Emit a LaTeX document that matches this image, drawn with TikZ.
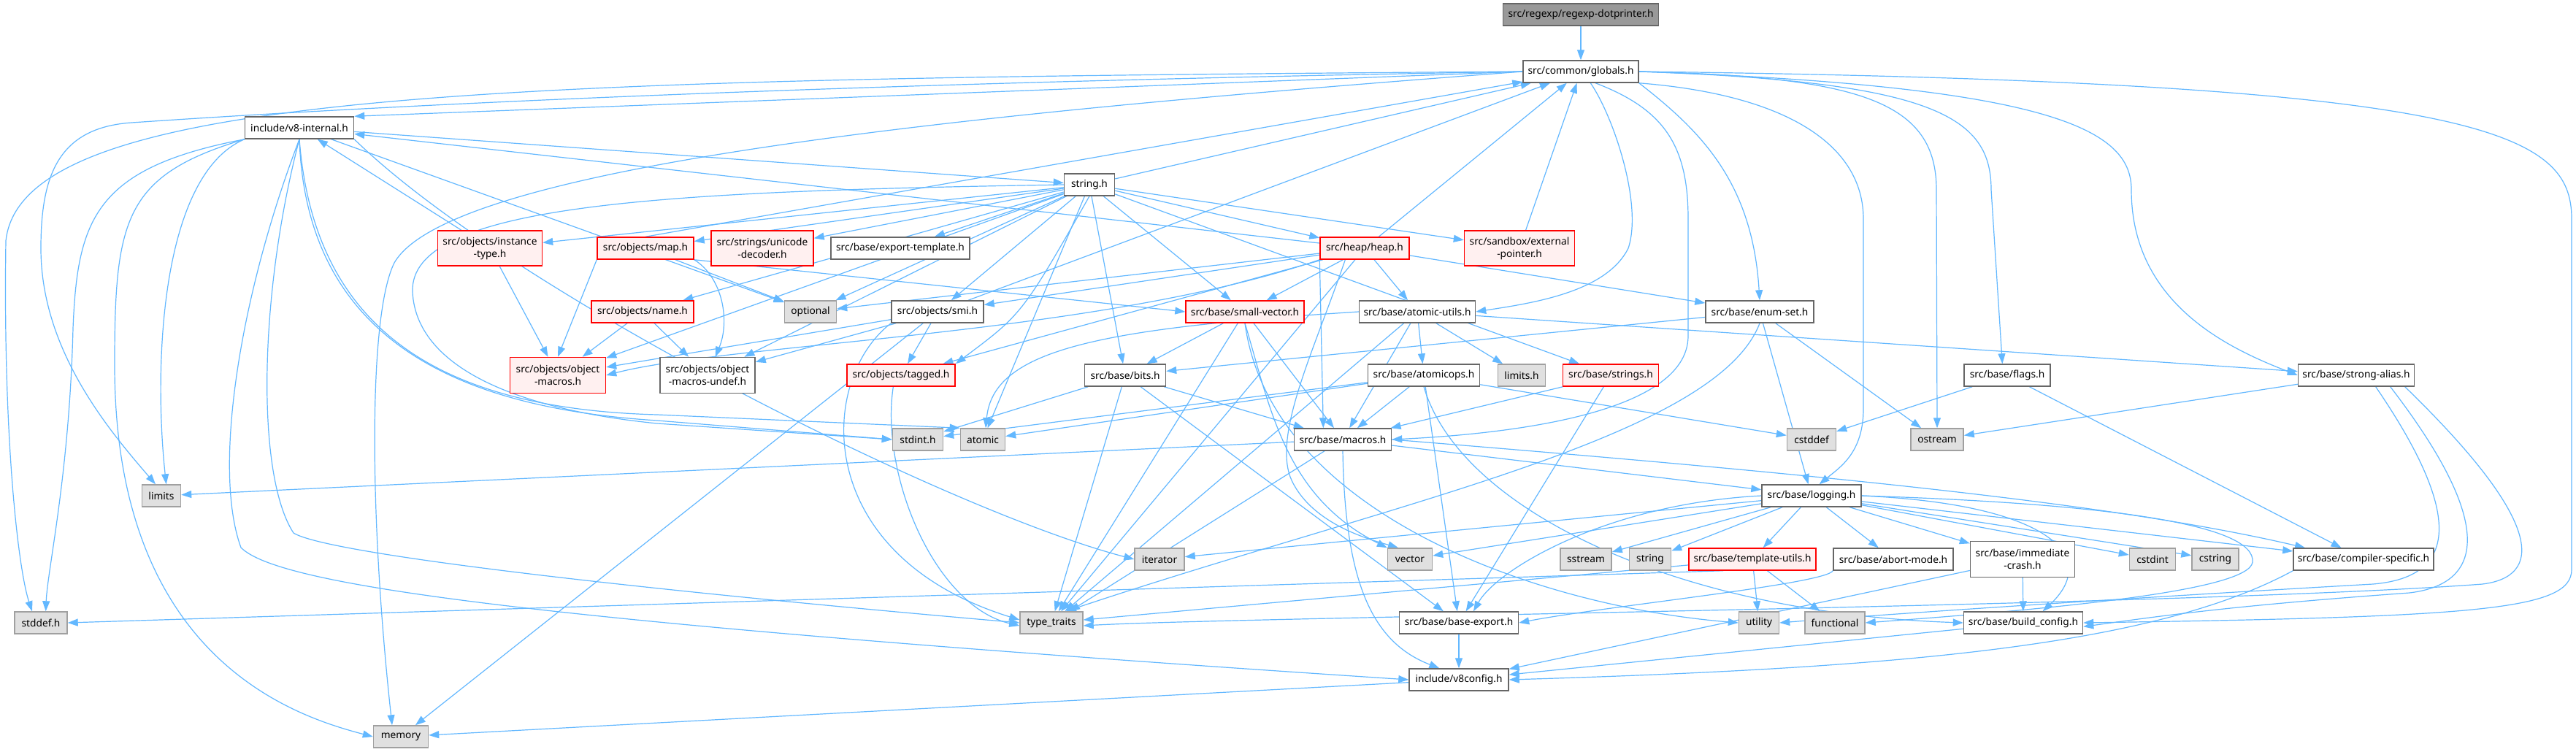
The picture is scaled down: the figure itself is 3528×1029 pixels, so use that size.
\documentclass[tikz,border=0pt]{standalone}
\usepackage{fontspec}
\setmainfont{Noto Sans}
\usetikzlibrary{arrows.meta}
\pgfdeclarelayer{bg}
\pgfsetlayers{bg,main}
\definecolor{edgec}{HTML}{63B8FF}
\definecolor{redfill}{HTML}{FFF0F0}
\definecolor{grayfill}{HTML}{E0E0E0}
\definecolor{bord}{HTML}{666666}
\definecolor{gbord}{HTML}{A0A0A0}
\definecolor{topfill}{HTML}{999999}
\begin{document}
\begin{tikzpicture}[x=0.75pt,y=-0.75pt,
  every node/.style={font=\fontsize{10.3}{12.8}\selectfont, inner sep=0pt, align=center},
  nb/.style={draw=bord, fill=white, line width=1.1pt},
  nr/.style={draw=red, fill=redfill, line width=1.1pt},
  ng/.style={draw=gbord, fill=grayfill, line width=1.1pt},
  ntop/.style={draw=bord, fill=topfill, line width=1.1pt},
  sz/.style 2 args={minimum width=#1*0.75pt, minimum height=#2*0.75pt},
  e/.style={draw=edgec, line width=0.9pt, -{Triangle[length=10.5pt,width=7.5pt]}}
]
\useasboundingbox (0,0) rectangle (3528,1029);
% nodes
\node[ntop,sz={213}{30}] (dp) at (2165,20) {src/regexp/regexp-dotprinter.h};
\node[nb,sz={158}{30}] (G) at (2165,98) {src/common/globals.h};
\node[nb,sz={149}{30}] (VI) at (410,175) {include/v8-internal.h};
\node[nb,sz={69}{30}] (SH) at (1492,253) {string.h};
\node[nr,sz={143}{48}] (IT) at (671,340) {src/objects/instance\\-type.h};
\node[nr,sz={132}{30}] (MAP) at (884,340) {src/objects/map.h};
\node[nr,sz={140}{48}] (UD) at (1044,340) {src/strings/unicode\\-decoder.h};
\node[nb,sz={190}{30}] (ET) at (1233,340) {src/base/export-template.h};
\node[nr,sz={122}{30}] (HEAP) at (1869,340) {src/heap/heap.h};
\node[nr,sz={151}{48}] (EP) at (2081,340) {src/sandbox/external\\-pointer.h};
\node[nr,sz={140}{30}] (NAME) at (880,427) {src/objects/name.h};
\node[ng,sz={71}{30}] (OPT) at (1110,427) {optional};
\node[nb,sz={126}{30}] (SMI) at (1284,427) {src/objects/smi.h};
\node[nr,sz={162}{30}] (SV) at (1705,427) {src/base/small-vector.h};
\node[nb,sz={159}{30}] (AU) at (1941,427) {src/base/atomic-utils.h};
\node[nb,sz={148}{30}] (ES) at (2410,427) {src/base/enum-set.h};
\node[nr,sz={131}{49}] (OM) at (764,514) {src/objects/object\\-macros.h};
\node[nb,sz={130}{49}] (OMU) at (969,514) {src/objects/object\\-macros-undef.h};
\node[nr,sz={148}{30}] (TAG) at (1234,514) {src/objects/tagged.h};
\node[nb,sz={111}{30}] (BITS) at (1541,514) {src/base/bits.h};
\node[nb,sz={153}{30}] (AOPS) at (1950,514) {src/base/atomicops.h};
\node[ng,sz={65}{30}] (LIMH) at (2084,514) {limits.h};
\node[nr,sz={131}{30}] (STRS) at (2206,514) {src/base/strings.h};
\node[nb,sz={118}{30}] (FL) at (2749,514) {src/base/flags.h};
\node[nb,sz={159}{30}] (SA) at (3227,514) {src/base/strong-alias.h};
\node[ng,sz={69}{30}] (STDINT) at (1257,602) {stdint.h};
\node[ng,sz={61}{30}] (ATOMIC) at (1346,602) {atomic};
\node[nb,sz={133}{30}] (MAC) at (1839,602) {src/base/macros.h};
\node[ng,sz={67}{30}] (CSTDDEF) at (2481,602) {cstddef};
\node[ng,sz={72}{30}] (OST) at (2653,602) {ostream};
\node[ng,sz={53}{30}] (LIM) at (221,679) {limits};
\node[nb,sz={136}{30}] (LOG) at (2481,679) {src/base/logging.h};
\node[ng,sz={68}{30}] (ITER) at (1588,766) {iterator};
\node[ng,sz={61}{30}] (VEC) at (1931,766) {vector};
\node[ng,sz={70}{30}] (SST) at (2172,766) {sstream};
\node[ng,sz={57}{30}] (STR) at (2260,766) {string};
\node[nr,sz={174}{30}] (TU) at (2400,766) {src/base/template-utils.h};
\node[nb,sz={164}{30}] (AM) at (2593,766) {src/base/abort-mode.h};
\node[nb,sz={143}{49}] (IC) at (2770,766) {src/base/immediate\\-crash.h};
\node[ng,sz={63}{30}] (CSTDINT) at (2948,766) {cstdint};
\node[ng,sz={64}{30}] (CSTRING) at (3034,766) {cstring};
\node[nb,sz={192}{30}] (CS) at (3237,766) {src/base/compiler-specific.h};
\node[ng,sz={72}{30}] (STDDEF) at (56,853) {stddef.h};
\node[ng,sz={86}{30}] (TT) at (1440,853) {type\_traits};
\node[nb,sz={163}{30}] (BE) at (1998,853) {src/base/base-export.h};
\node[ng,sz={55}{30}] (UT) at (2409,853) {utility};
\node[ng,sz={82}{30}] (FUNC) at (2513,853) {functional};
\node[nb,sz={163}{30}] (BC) at (2771,853) {src/base/build\_config.h};
\node[nb,sz={136}{30}] (V8C) at (1998,931) {include/v8config.h};
\node[ng,sz={75}{30}] (MEM) at (549,1009) {memory};

\begin{pgfonlayer}{bg}
\fill[white] (0,0) rectangle (3528,1029);
% straight edges
\foreach \a/\b in {dp/G, VI/SH, VI/OPT, HEAP/VI, IT/VI,
  SH/G, SH/IT, SH/MAP, SH/UD, SH/ET, SH/HEAP, SH/EP, SH/NAME, SH/OPT, SH/SMI, SH/SV, SH/BITS, SH/STRS, SH/OM, SH/OMU, SH/ATOMIC,
  IT/OM, MAP/OPT, NAME/OM, NAME/OMU,
  HEAP/G, HEAP/AU, HEAP/ES, HEAP/SMI, HEAP/SV, HEAP/OPT, HEAP/TAG, HEAP/TT,
  EP/G, SMI/G, SMI/OMU, SMI/TAG, SMI/MEM, SMI/OM,
  SV/BITS, SV/MAC, SV/TT,
  AU/MAC, AU/AOPS, AU/LIMH, AU/SA, AU/TT,
  AOPS/MAC, AOPS/STDINT, AOPS/ATOMIC, AOPS/CSTDDEF, AOPS/BE,
  STRS/MAC, STRS/BE, ES/BITS, ES/LOG, ES/OST,
  FL/CSTDDEF, FL/CS, SA/OST,
  BITS/STDINT, BITS/TT, BITS/MAC, BITS/BE,
  MAC/LIM, MAC/LOG, MAC/TT,
  LOG/ITER, LOG/VEC, LOG/SST, LOG/STR, LOG/TU, LOG/AM, LOG/IC, LOG/CSTDINT, LOG/CSTRING, LOG/CS,
  TU/TT, TU/UT, TU/FUNC, IC/BC, IC/V8C, BC/V8C, BE/V8C, V8C/MEM}
  \draw[e] (\a) -- (\b);
\draw[e] (MAP.north) -- (G);
\draw[e] (MAP.south west) -- (OM.north);
\draw[e] (MAP.south east) .. controls (990,380) and (1000,440) .. ([xshift=8pt]OMU.north);
\draw[e] (MAP.south east) -- (SV.west);
\draw[e] ([xshift=-30pt]TU.south) -- (STDDEF.east);
\draw[e] (HEAP.south west) -- ([xshift=-20pt]MAC.north);
\draw[e] (ES.south) .. controls (2350,600) and (1900,690) .. ([xshift=15pt]TT.north);
% globals out
\draw[e] (G.west) -- (VI.north east);
\draw[e] (G.west) .. controls (700,108) and (30,120) .. (8,330) .. controls (4,600) and (25,780) .. ([xshift=-9pt]STDDEF.north);
\draw[e] (G.west) .. controls (900,118) and (300,160) .. (180,168) .. controls (80,175) and (56,240) .. (56,340) .. controls (56,480) and (150,590) .. ([xshift=-6pt]LIM.north);
\draw[e] (G.west) .. controls (1400,150) and (620,220) .. (540,360) .. controls (505,430) and (505,700) .. ([xshift=-9pt]MEM.north);
\draw[e] (G.east) .. controls (2550,105) and (2652,140) .. (2652,260) -- (OST.north);
\draw[e] (G.east) .. controls (2650,112) and (2727,160) .. (2727,260) -- ([xshift=-5pt]FL.north);
\draw[e] (G.east) .. controls (2820,118) and (2919,180) .. (2919,260) .. controls (2919,420) and (3060,480) .. (SA.west);
\draw[e] (G.east) .. controls (3400,112) and (3522,180) .. (3522,300) -- (3522,780) .. controls (3522,835) and (3400,845) .. (BC.east);
\draw[e] (G.south east) .. controls (2450,130) and (2552,200) .. (2552,300) -- (2552,560) .. controls (2552,620) and (2520,640) .. ([xshift=8pt]LOG.north);
\draw[e] (G.south east) .. controls (2330,180) and (2400,250) .. (ES.north);
\draw[e] ([xshift=15pt]G.south) .. controls (2280,150) and (2312,200) .. (2312,300) -- (2312,460) .. controls (2312,570) and (2050,595) .. (MAC.east);
\draw[e] ([xshift=10pt]G.south) .. controls (2210,160) and (2250,280) .. (2230,340) .. controls (2200,400) and (2100,415) .. (AU.east);
% v8-internal out
\draw[e] (VI.south west) .. controls (130,230) and (106,300) .. (100,450) .. controls (95,650) and (65,780) .. ([xshift=5pt]STDDEF.north);
\draw[e] (VI.south west) .. controls (170,240) and (157,300) .. (157,500) .. controls (157,900) and (400,980) .. (MEM.west);
\draw[e] (VI.south west) .. controls (220,240) and (210,500) .. ([xshift=5pt]LIM.north);
\draw[e] (VI.south) .. controls (330,400) and (290,640) .. (330,750) .. controls (380,800) and (700,850) .. (V8C.west);
\draw[e] (VI.south) .. controls (355,400) and (350,650) .. (402,730) .. controls (450,760) and (900,810) .. (TT.west);
\draw[e] (VI.south) .. controls (420,480) and (650,560) .. (900,576) -- (STDINT.west);
\draw[e] (VI.south) .. controls (430,450) and (600,560) .. (900,568) -- (ATOMIC.north west);
\draw[e] (VI.south east) .. controls (700,400) and (1300,700) .. (ITER.west);
% string.h curves
\draw[e] (SH.west) .. controls (900,262) and (560,280) .. (565,400) .. controls (570,500) and (700,560) .. (900,580) -- (STDINT.west);
\draw[e] (SH.south) .. controls (1400,430) .. (TAG.north east);
% heap / others
\draw[e] (HEAP.south west) .. controls (1500,460) and (1000,470) .. (OM.east);
\draw[e] ([xshift=-20pt]HEAP.south) .. controls (1800,480) and (1740,600) .. (1770,660) .. controls (1800,720) and (1880,740) .. ([xshift=-12pt]VEC.north);
\draw[e] (SV.south) .. controls (1740,560) and (1760,680) .. (VEC.north west);
\draw[e] (SV.south) .. controls (1740,700) and (2100,830) .. (UT.west);
\draw[e] (SMI.south west) .. controls (1120,520) and (1110,760) .. ([yshift=3pt]TT.west);
\draw[e] ([xshift=-8pt]TAG.south) .. controls (1205,650) and (1280,830) .. ([yshift=-3pt]TT.west);
\draw[e] (AU.west) .. controls (1500,450) and (1360,480) .. ([xshift=3pt]ATOMIC.north);
\draw[e] (AOPS.south) .. controls (2000,700) and (2300,840) .. (BC.west);
\draw[e] (MAC.east) .. controls (2500,650) and (2900,690) .. ([xshift=-60pt]CS.north);
\draw[e] (MAC.south) .. controls (1842,800) and (1880,880) .. ([xshift=-20pt]V8C.north);
\draw[e] (LOG.west) .. controls (2200,690) and (2050,780) .. ([xshift=15pt]BE.north);
\draw[e] (LOG.east) .. controls (2800,690) and (2880,760) .. ([xshift=20pt]BC.north);
\draw[e] (LOG.east) .. controls (2900,690) and (3090,720) .. (3085,770) .. controls (3080,810) and (2800,835) .. (FUNC.east);
\draw[e] (AM.south west) .. controls (2500,800) and (2200,830) .. (BE.east);
\draw[e] (CS.south west) .. controls (2950,885) and (2600,915) .. (V8C.east);
\draw[e] ([xshift=20pt]SA.south) .. controls (3370,700) and (3370,790) .. (3250,800) .. controls (2900,820) and (2600,840) .. (UT.east);
\draw[e] ([xshift=35pt]SA.south) .. controls (3420,720) and (3400,800) .. (3300,812) .. controls (3050,830) and (2950,845) .. ([yshift=-4pt]BC.east);
\draw[e] ([xshift=50pt]SA.south) .. controls (3490,720) and (3480,790) .. (3400,800) .. controls (3000,830) and (1700,845) .. ([yshift=-3pt]TT.east);
\end{pgfonlayer}
\end{tikzpicture}
\end{document}
